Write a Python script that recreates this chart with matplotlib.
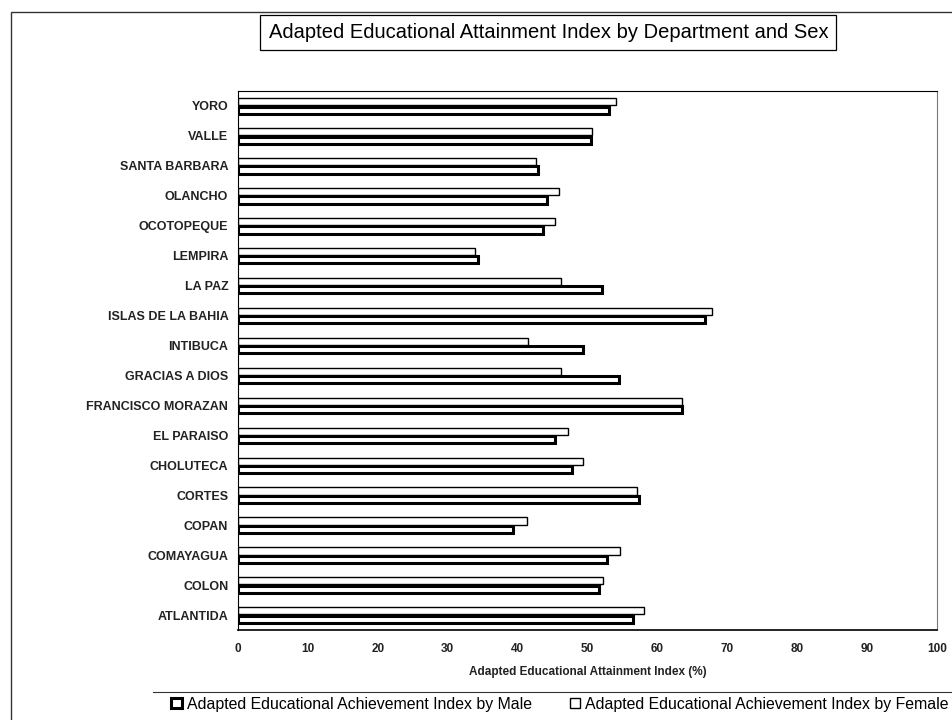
import numpy as np
import matplotlib
matplotlib.use("Agg")
import matplotlib.pyplot as plt
from matplotlib.patches import Rectangle
from matplotlib.lines import Line2D

plt.rcParams['font.family'] = ['Liberation Sans', 'DejaVu Sans']

# Departments listed top to bottom
departments = ['YORO', 'VALLE', 'SANTA BARBARA', 'OLANCHO', 'OCOTOPEQUE',
               'LEMPIRA', 'LA PAZ', 'ISLAS DE LA BAHIA', 'INTIBUCA',
               'GRACIAS A DIOS', 'FRANCISCO MORAZAN', 'EL PARAISO',
               'CHOLUTECA', 'CORTES', 'COPAN', 'COMAYAGUA', 'COLON',
               'ATLANTIDA']

# Adapted educational attainment index (%)
male = [53.1, 50.5, 42.9, 44.2, 43.6, 34.3, 52.1, 66.8, 49.4,
        54.5, 63.5, 45.3, 47.8, 57.4, 39.3, 52.8, 51.6, 56.5]
female = [54.1, 50.6, 42.6, 45.9, 45.3, 33.9, 46.2, 67.9, 41.5,
          46.2, 63.5, 47.2, 49.4, 57.1, 41.3, 54.7, 52.2, 58.1]

xticks = list(range(0, 101, 10))

fig = plt.figure(figsize=(9.52, 7.2), dpi=100)
ax = fig.add_axes([0.25, 0.125, 0.734, 0.7486])

y = np.arange(len(departments))
h = 0.24
ax.barh(y + 0.14, male, height=h, color='white', edgecolor='black',
        linewidth=2.2, label='Adapted Educational Achievement Index by Male')
ax.barh(y - 0.14, female, height=h, color='white', edgecolor='black',
        linewidth=1.0, label='Adapted Educational Achievement Index by Female')

ax.set_ylim(len(departments) - 0.5, -0.5)
ax.set_xlim(0, 100)
ax.set_yticks(y)
ax.set_yticklabels(departments, fontsize=9, fontweight='bold', color='#222222')
ax.set_xticks(xticks)
ax.set_xticklabels([str(t) for t in xticks], fontsize=8.5, fontweight='bold',
                   color='#222222')
ax.tick_params(axis='y', length=0, pad=7)
ax.tick_params(axis='x', length=0, pad=9)
for s in ax.spines.values():
    s.set_linewidth(0.8)
ax.spines['right'].set_color('#777777')
ax.spines['bottom'].set_linewidth(1.2)

ax.set_xlabel('Adapted Educational Attainment Index (%)', fontsize=8.5,
              fontweight='bold', color='#222222', labelpad=8)

# Title in a box
fig.text(0.576, 0.955, 'Adapted Educational Attainment Index by Department and Sex',
         ha='center', va='center', fontsize=14.5,
         bbox=dict(boxstyle='square,pad=0.4', facecolor='white',
                   edgecolor='black', linewidth=0.9))

# Outer frame and legend separator
fig.add_artist(Rectangle((11 / 952, -0.01), 1.0, 1 - 12 / 720 + 0.01,
                         transform=fig.transFigure, fill=False,
                         edgecolor='#333333', linewidth=1.0))
fig.add_artist(Line2D([153 / 952, 1.0], [1 - 692 / 720, 1 - 692 / 720],
                      transform=fig.transFigure, color='#333333',
                      linewidth=0.8))

fig.legend(loc='center', bbox_to_anchor=(0.588, 1 - 704 / 720), ncol=2,
           frameon=False, fontsize=11.4, handlelength=0.65, handleheight=0.65,
           handletextpad=0.3, columnspacing=2.4, borderpad=0)

fig.savefig('out.png', dpi=100)
